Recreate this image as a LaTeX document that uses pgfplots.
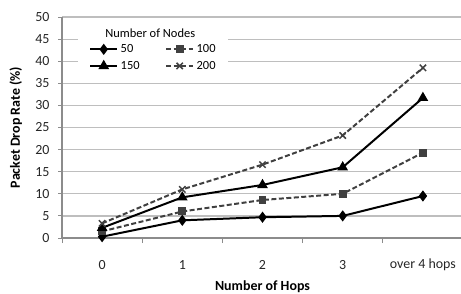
\documentclass[border=0pt]{standalone}
\usepackage{fontspec}
\setmainfont{Carlito}
\usepackage{pgfplots}
\pgfplotsset{compat=1.18}
\definecolor{gridc}{RGB}{190,190,190}
\definecolor{axc}{RGB}{140,140,140}
\definecolor{dashc}{RGB}{64,64,64}
\begin{document}
\begin{tikzpicture}[x=1bp,y=1bp]
\useasboundingbox (0,0) rectangle (461,293);
\begin{axis}[
  at={(62bp,55bp)}, anchor=south west,
  scale only axis, width=401bp, height=221bp,
  xmin=-0.5, xmax=4.5, ymin=0, ymax=50,
  axis x line=bottom, axis y line=left,
  axis line style={axc, line width=1.2pt, -},
  xtick={0,1,2,3,4},
  xticklabels={0,1,2,3,over 4 hops},
  major x tick style={draw=none},
  minor xtick={-0.5,0.5,1.5,2.5,3.5},
  minor x tick style={axc, line width=1pt},
  minor tick length=5bp,
  ytick={0,5,...,50},
  major y tick style={axc, line width=1pt},
  major tick length=4bp,
  tick align=outside,
  ymajorgrids, grid style={gridc, line width=1.2pt},
  ticklabel style={font=\fontsize{14}{16}\selectfont, text=black!85},
  xticklabel style={anchor=center, yshift=-23bp},
  yticklabel style={anchor=east, xshift=-5bp},
  /pgf/number format/assume math mode=true,
  every axis y label/.style={at={(axis description cs:-0.115,0.5)}, rotate=90, anchor=center, font=\bfseries\fontsize{14}{16}\selectfont},
  every axis x label/.style={at={(axis description cs:0.5,-0.222)}, anchor=center, font=\bfseries\fontsize{14}{16}\selectfont},
  xlabel={Number of Hops},
  ylabel={Packet Drop Rate (\%)},
  clip=false,
  legend columns=2,
  legend style={at={(axis cs:-0.2,44.6)}, anchor=north west, draw=none, fill=none,
     font=\fontsize{12.5}{14}\selectfont, column sep=1bp, row sep=4bp, nodes={inner sep=1.5bp},
     /tikz/every even column/.append style={column sep=24bp}},
  legend cell align=left,
  legend image code/.code={\draw[#1] (0bp,0bp) -- (27bp,0bp); \draw[#1, solid] plot coordinates {(13.5bp,0bp)};},
]
\fill[white] (axis cs:-0.3,36.9) rectangle (axis cs:1.57,48.9);
\node[font=\fontsize{12.5}{14}\selectfont] at (axis cs:0.6,46.4) {Number of Nodes};
\addplot[black, line width=2pt, mark=diamond*, mark size=4pt] coordinates {(0,0.3) (1,4) (2,4.7) (3,5) (4,9.5)};
\addlegendentry{50}
\addplot[dashc, line width=2pt, dash pattern=on 5bp off 2.5bp, mark=square*, mark size=3pt, mark options={solid}] coordinates {(0,1.5) (1,6) (2,8.6) (3,10) (4,19.3)};
\addlegendentry{100}
\addplot[black, line width=2pt, mark=triangle*, mark size=4.2pt] coordinates {(0,2.3) (1,9.2) (2,12) (3,16) (4,31.7)};
\addlegendentry{150}
\addplot[dashc, line width=2pt, dash pattern=on 5bp off 2.5bp, mark=x, mark size=4.5pt, mark options={solid, line width=1.5pt}] coordinates {(0,3.3) (1,11) (2,16.6) (3,23.2) (4,38.5)};
\addlegendentry{200}
\end{axis}
\end{tikzpicture}
\end{document}
